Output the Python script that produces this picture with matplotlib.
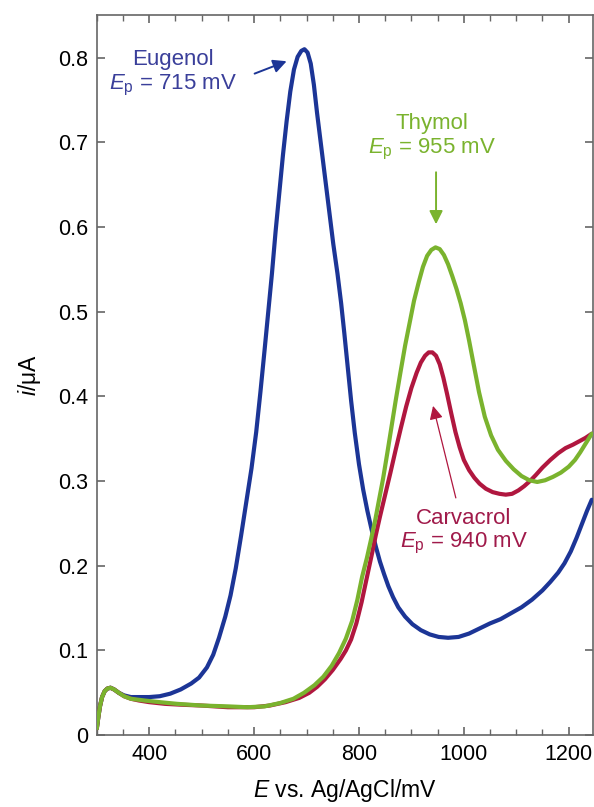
import matplotlib
matplotlib.use("Agg")
import matplotlib.pyplot as plt
from matplotlib.ticker import MultipleLocator

plt.rcParams['font.family'] = ['Liberation Sans', 'DejaVu Sans']
plt.rcParams['mathtext.fontset'] = 'custom'
plt.rcParams['mathtext.rm'] = 'Liberation Sans'
plt.rcParams['mathtext.it'] = 'Liberation Sans:italic'

# potentials (mV) and currents (uA)
eugenol_E = [300, 303, 306, 310, 315, 320, 326, 333, 342, 352, 365, 380, 400, 420, 440,
             460, 480, 495, 510, 522, 533, 545, 555, 565, 575, 585, 595, 604, 612, 620,
             627, 634, 641, 648, 655, 662, 669, 676, 683, 690, 696, 702, 708, 714, 720,
             727, 735, 743, 751, 759, 766, 772, 778, 785, 792, 800, 808, 816, 824, 832,
             840, 848, 856, 865, 875, 888, 902, 918, 935, 952, 970, 990, 1010, 1030, 1050,
             1070, 1090, 1110, 1130, 1150, 1165, 1180, 1192, 1204, 1215, 1225, 1235, 1244]
eugenol_i = [0.008, 0.022, 0.034, 0.045, 0.052, 0.055, 0.056, 0.054, 0.050, 0.047, 0.045, 0.045, 0.045, 0.046, 0.049,
             0.054, 0.061, 0.068, 0.080, 0.095, 0.115, 0.140, 0.165, 0.197, 0.235, 0.275, 0.315, 0.358, 0.405, 0.455,
             0.500, 0.545, 0.595, 0.640, 0.685, 0.725, 0.760, 0.786, 0.801, 0.808, 0.810, 0.806, 0.793, 0.768, 0.735,
             0.700, 0.660, 0.620, 0.580, 0.545, 0.510, 0.475, 0.438, 0.395, 0.357, 0.320, 0.290, 0.265, 0.243, 0.223,
             0.205, 0.190, 0.176, 0.163, 0.151, 0.140, 0.131, 0.124, 0.119, 0.116, 0.115, 0.116, 0.120, 0.126, 0.132,
             0.137, 0.144, 0.151, 0.160, 0.171, 0.181, 0.192, 0.203, 0.217, 0.233, 0.249, 0.265, 0.278]

carvacrol_E = [300, 303, 306, 310, 315, 320, 326, 333, 342, 352, 365, 380, 400, 430, 460,
               500, 550, 600, 630, 660, 686, 705, 720, 735, 750, 765, 775, 785, 795, 805,
               815, 824, 832, 840, 850, 860, 870, 880, 890, 900, 910, 918, 926, 933, 940,
               947, 954, 961, 968, 976, 984, 992, 1000, 1010, 1020, 1030, 1042, 1055, 1068, 1080,
               1092, 1104, 1115, 1126, 1137, 1150, 1165, 1180, 1194, 1208, 1220, 1232, 1244]
carvacrol_i = [0.008, 0.022, 0.034, 0.045, 0.052, 0.055, 0.056, 0.054, 0.050, 0.046, 0.043, 0.041, 0.039, 0.037, 0.036,
               0.035, 0.033, 0.033, 0.035, 0.039, 0.044, 0.050, 0.057, 0.066, 0.077, 0.090, 0.100, 0.113, 0.132, 0.157,
               0.186, 0.212, 0.236, 0.258, 0.284, 0.310, 0.337, 0.363, 0.388, 0.410, 0.428, 0.440, 0.448, 0.452, 0.452,
               0.448, 0.438, 0.422, 0.403, 0.380, 0.358, 0.340, 0.325, 0.313, 0.304, 0.297, 0.291, 0.287, 0.285, 0.284,
               0.285, 0.289, 0.294, 0.300, 0.307, 0.316, 0.325, 0.333, 0.339, 0.343, 0.347, 0.351, 0.356]

thymol_E = [300, 303, 306, 310, 315, 320, 326, 333, 342, 352, 365, 390, 420, 453, 500,
            550, 587, 620, 650, 675, 695, 715, 732, 748, 762, 775, 787, 797, 806, 815,
            823, 831, 838, 846, 854, 862, 870, 879, 888, 897, 905, 914, 922, 930, 938,
            946, 954, 962, 970, 978, 986, 994, 1002, 1010, 1019, 1029, 1040, 1052, 1065, 1080,
            1095, 1110, 1125, 1140, 1155, 1170, 1185, 1200, 1212, 1222, 1232, 1244]
thymol_i = [0.008, 0.022, 0.034, 0.045, 0.052, 0.055, 0.056, 0.054, 0.050, 0.046, 0.043, 0.041, 0.039, 0.037, 0.035,
            0.034, 0.033, 0.034, 0.038, 0.043, 0.050, 0.059, 0.069, 0.082, 0.097, 0.114, 0.135, 0.160, 0.187, 0.209,
            0.231, 0.254, 0.277, 0.303, 0.333, 0.364, 0.395, 0.428, 0.460, 0.488, 0.513, 0.535, 0.553, 0.566, 0.573,
            0.576, 0.574, 0.567, 0.556, 0.542, 0.527, 0.510, 0.490, 0.466, 0.437, 0.405, 0.376, 0.354, 0.337, 0.324,
            0.314, 0.306, 0.301, 0.299, 0.301, 0.305, 0.310, 0.317, 0.325, 0.334, 0.344, 0.356]

y_ticks = [0, 0.1, 0.2, 0.3, 0.4, 0.5, 0.6, 0.7, 0.8]
y_ticklabels = ['0', '0.1', '0.2', '0.3', '0.4', '0.5', '0.6', '0.7', '0.8']
x_ticks = [400, 600, 800, 1000, 1200]

blue = '#1c3596'
red = '#b0173f'
green = '#7ab32e'

fig = plt.figure(figsize=(5.94, 8.07), dpi=100)
ax = fig.add_axes([0.163, 0.089, 0.835, 0.892])

ax.plot(eugenol_E, eugenol_i, color=blue, lw=3, solid_capstyle='round', solid_joinstyle='round', zorder=3)
ax.plot(carvacrol_E, carvacrol_i, color=red, lw=3, solid_capstyle='round', solid_joinstyle='round', zorder=4)
ax.plot(thymol_E, thymol_i, color=green, lw=3, solid_capstyle='round', solid_joinstyle='round', zorder=5)

ax.set_xlim(300, 1246)
ax.set_ylim(0, 0.85)
ax.set_xticks(x_ticks)
ax.xaxis.set_minor_locator(MultipleLocator(50))
ax.set_yticks(y_ticks)
ax.set_yticklabels(y_ticklabels)

for s in ax.spines.values():
    s.set_color('#666666')
    s.set_linewidth(1.2)
ax.tick_params(which='both', direction='in', top=True, right=True, color='#666666',
               labelsize=15.5, pad=6)
ax.tick_params(which='major', length=6, width=1.2)
ax.tick_params(which='minor', length=4, width=1.0)

ax.set_xlabel(r'$E$ vs. Ag/AgCl/mV', fontsize=16.5, labelpad=9)
ax.set_ylabel(r'$i$/μA', fontsize=16.5, labelpad=11)

# annotations
ax.text(446, 0.781, 'Eugenol\n' + r'$E_\mathrm{p}$ = 715 mV', color='#3a3f9a', fontsize=16,
        ha='center', va='center', linespacing=1.15)
ax.annotate('', xy=(667, 0.797), xytext=(596, 0.780),
            arrowprops=dict(arrowstyle='-|>', color=blue, lw=1.4, mutation_scale=20))

ax.text(939, 0.706, 'Thymol\n' + r'$E_\mathrm{p}$ = 955 mV', color=green, fontsize=16,
        ha='center', va='center', linespacing=1.15)
ax.annotate('', xy=(947, 0.600), xytext=(947, 0.668),
            arrowprops=dict(arrowstyle='-|>', color=green, lw=1.4, mutation_scale=20))

ax.text(1000, 0.240, 'Carvacrol\n' + r'$E_\mathrm{p}$ = 940 mV', color='#a01a4a', fontsize=16,
        ha='center', va='center', linespacing=1.15)
ax.annotate('', xy=(940, 0.392), xytext=(986, 0.277),
            arrowprops=dict(arrowstyle='-|>', color=red, lw=0.9, mutation_scale=20))

fig.savefig('out.png', dpi=100)
